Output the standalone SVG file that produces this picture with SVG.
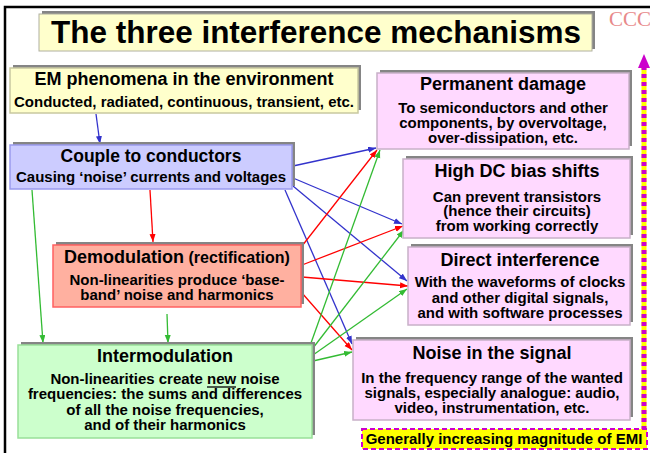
<svg xmlns="http://www.w3.org/2000/svg" width="650" height="453" viewBox="0 0 650 453">
<style>
text{font-family:"Liberation Sans",Arial,sans-serif;font-weight:bold;fill:#000;text-anchor:middle}
.t{font-size:18px}
.b{font-size:15px}
.sh{fill:#858585}
.c{fill:none;stroke-width:1.3}
.bl{stroke:#3333cc}
.rd{stroke:#ff0000}
.gr{stroke:#33bb33}
.pink{fill:#ffd9ff;stroke:#c8b0c8;stroke-width:1.5}
</style>
<defs>
<marker id="ab" markerUnits="userSpaceOnUse" markerWidth="9" markerHeight="7" refX="8" refY="3" orient="auto"><path d="M0,0 L8,3 L0,6 z" fill="#3333cc"/></marker>
<marker id="ar" markerUnits="userSpaceOnUse" markerWidth="9" markerHeight="7" refX="8" refY="3" orient="auto"><path d="M0,0 L8,3 L0,6 z" fill="#ff0000"/></marker>
<marker id="ag" markerUnits="userSpaceOnUse" markerWidth="9" markerHeight="7" refX="8" refY="3" orient="auto"><path d="M0,0 L8,3 L0,6 z" fill="#33bb33"/></marker>
</defs>
<rect width="650" height="453" fill="#fff"/>
<path d="M5,453 V7 H650" fill="none" stroke="#000" stroke-width="2.5"/>
<text x="609" y="26" style="font-family:'Liberation Serif',serif;font-weight:normal;font-size:21px;fill:#e88a8a;text-anchor:start">CCC</text>

<g id="title">
<rect x="42" y="11" width="553" height="38" class="sh"/>
<rect x="39" y="14" width="553" height="37" fill="#ffffcc" stroke="#b0b0a0" stroke-width="1"/>
<text x="316" y="43" style="font-size:31px" textLength="530" lengthAdjust="spacingAndGlyphs">The three interference mechanisms</text>
</g>

<g id="connectors">
<line class="c bl" x1="96" y1="114" x2="100" y2="144" marker-end="url(#ab)"/>
<line class="c bl" x1="293" y1="166" x2="376" y2="148" marker-end="url(#ab)"/>
<line class="c bl" x1="293" y1="178" x2="402" y2="224" marker-end="url(#ab)"/>
<line class="c bl" x1="293" y1="186" x2="407" y2="281" marker-end="url(#ab)"/>
<line class="c bl" x1="285" y1="190" x2="352" y2="344" marker-end="url(#ab)"/>
<line class="c rd" x1="150" y1="190" x2="153" y2="242" marker-end="url(#ar)"/>
<line class="c rd" x1="302" y1="246" x2="377" y2="150" marker-end="url(#ar)"/>
<line class="c rd" x1="302" y1="265" x2="403" y2="226" marker-end="url(#ar)"/>
<line class="c rd" x1="302" y1="277" x2="408" y2="286" marker-end="url(#ar)"/>
<line class="c rd" x1="302" y1="293" x2="352" y2="350" marker-end="url(#ar)"/>
<line class="c gr" x1="32" y1="190" x2="43" y2="343" marker-end="url(#ag)"/>
<line class="c gr" x1="167" y1="314" x2="168" y2="343" marker-end="url(#ag)"/>
<line class="c gr" x1="311" y1="343" x2="380" y2="150" marker-end="url(#ag)"/>
<line class="c gr" x1="313" y1="348" x2="404" y2="230" marker-end="url(#ag)"/>
<line class="c gr" x1="313" y1="355" x2="407" y2="289" marker-end="url(#ag)"/>
<line class="c gr" x1="313" y1="361" x2="352" y2="352" marker-end="url(#ag)"/>
</g>

<g id="em">
<rect x="13" y="65" width="348" height="45" class="sh"/>
<rect x="10" y="68" width="348" height="45" fill="#ffffcc" stroke="#c8c8a0" stroke-width="1.5"/>
<text class="t" x="184" y="85">EM phenomena in the environment</text>
<text class="b" x="184" y="107">Conducted, radiated, continuous, transient, etc.</text>
</g>

<g id="couple">
<rect x="13" y="142" width="282" height="44" class="sh"/>
<rect x="10" y="145" width="282" height="44" fill="#ccccff" stroke="#9a9aee" stroke-width="1.5"/>
<text x="151" y="162" style="font-size:17.5px">Couple to conductors</text>
<text class="b" x="151" y="182">Causing ‘noise’ currents and voltages</text>
</g>

<g id="demod">
<rect x="56" y="242" width="248" height="62" class="sh"/>
<rect x="53" y="245" width="248" height="62" fill="#ffb0a0" stroke="#ff6060" stroke-width="1.5"/>
<text x="177" y="263"><tspan class="t">Demodulation</tspan><tspan style="font-size:16px"> (rectification)</tspan></text>
<text class="b" x="177" y="285">Non-linearities produce ‘base-</text>
<text class="b" x="177" y="300">band’ noise and harmonics</text>
</g>

<g id="intermod">
<rect x="21" y="342" width="294" height="93" class="sh"/>
<rect x="18" y="345" width="294" height="93" fill="#ccffcc" stroke="#99e099" stroke-width="1.5"/>
<text class="t" x="165" y="362">Intermodulation</text>
<text class="b" x="165" y="384">Non-linearities create new noise</text>
<line x1="207" y1="387" x2="236" y2="387" stroke="#000" stroke-width="1.3"/>
<text class="b" x="165" y="399">frequencies: the sums and differences</text>
<text class="b" x="165" y="415">of all the noise frequencies,</text>
<text class="b" x="165" y="430">and of their harmonics</text>
</g>

<g id="damage">
<rect x="380" y="70" width="252" height="76" class="sh"/>
<rect x="377" y="73" width="252" height="76" class="pink"/>
<text class="t" x="503" y="90">Permanent damage</text>
<text class="b" x="503" y="113">To semiconductors and other</text>
<text class="b" x="503" y="128">components, by overvoltage,</text>
<text class="b" x="503" y="143">over-dissipation, etc.</text>
</g>

<g id="dcbias">
<rect x="406" y="156" width="227" height="79" class="sh"/>
<rect x="403" y="159" width="227" height="79" class="pink"/>
<text class="t" x="517" y="177">High DC bias shifts</text>
<text class="b" x="517" y="202">Can prevent transistors</text>
<text class="b" x="517" y="216">(hence their circuits)</text>
<text class="b" x="517" y="231">from working correctly</text>
</g>

<g id="direct">
<rect x="411" y="244" width="222" height="78" class="sh"/>
<rect x="408" y="247" width="222" height="78" class="pink"/>
<text class="t" x="520" y="266">Direct interference</text>
<text class="b" x="520" y="287">With the waveforms of clocks</text>
<text class="b" x="520" y="303">and other digital signals,</text>
<text class="b" x="520" y="318">and with software processes</text>
</g>

<g id="noise">
<rect x="356" y="337" width="277" height="80" class="sh"/>
<rect x="353" y="340" width="277" height="80" class="pink"/>
<text class="t" x="492" y="359">Noise in the signal</text>
<text class="b" x="492" y="383">In the frequency range of the wanted</text>
<text class="b" x="492" y="398">signals, especially analogue: audio,</text>
<text class="b" x="492" y="413">video, instrumentation, etc.</text>
</g>

<g id="emi-scale">
<line x1="644" y1="66" x2="644" y2="429" stroke="#ffff00" stroke-width="5"/>
<line x1="644" y1="66" x2="644" y2="429" stroke="#cc00cc" stroke-width="5" stroke-dasharray="4,4"/>
<path d="M644,54 L650,68 L638,68 z" fill="#cc00cc"/>
<rect x="362" y="429" width="285" height="20" fill="#ffff00" stroke="#cc00cc" stroke-width="2" stroke-dasharray="5,3"/>
<text class="b" x="504" y="444">Generally increasing magnitude of EMI</text>
</g>
</svg>
